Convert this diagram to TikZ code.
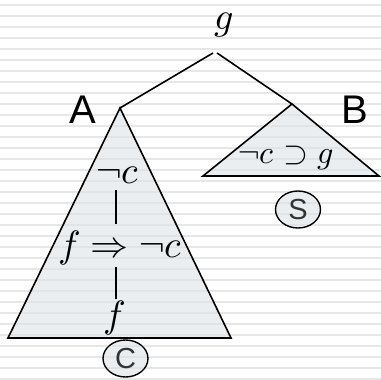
\documentclass[tikz,border=0pt]{standalone}
\usepackage{fontspec}
\usepackage{unicode-math}
\setmathfont{Latin Modern Math}
\newfontfamily\labelfont{Liberation Sans}
\usetikzlibrary{shapes.geometric}
\definecolor{paneFill}{RGB}{220,227,232}
\definecolor{markGray}{RGB}{51,51,51}
\begin{document}
\begin{tikzpicture}[x=1pt,y=-1pt,line width=1.6pt,
  stripe/.style={draw=gray!19,line width=2pt},
  pane/.style={draw,line join=miter,fill=paneFill,fill opacity=0.6},
  bigmath/.style={inner sep=0pt,anchor=base,font=\fontsize{38}{44}\selectfont},
  sidelbl/.style={inner sep=0pt,anchor=base,font=\labelfont\fontsize{40}{46}\selectfont},
  tagmark/.style={draw,ellipse,line width=1.4pt,minimum width=45pt,minimum height=37pt,inner sep=0pt,
    fill=paneFill,fill opacity=0.6,text opacity=1,text=markGray,
    font=\labelfont\fontsize{29}{33}\selectfont}]
\useasboundingbox (0,0) rectangle (381,380);
\fill[white] (0,0) rectangle (381,380);
\foreach \k in {0,...,34} \draw[stripe] (0,{5+11*\k}) -- (381,{5+11*\k});
\coordinate (root) at (215,53);
\coordinate (topA) at (120,108);
\coordinate (topB) at (292,104);
\coordinate (stem) at (116,0);
\draw[pane] (topA) -- (8,338) -- (231,338) -- cycle;
\draw[pane] (topB) -- (203,176) -- (379,176) -- cycle;
\node[bigmath] (goal) at (224,30) {$g$};
\draw ([xshift=-2pt]root) -- (topA);
\draw ([xshift=2pt]root) -- (topB);
\node[sidelbl] (nameA) at (83,123) {A};
\node[sidelbl] (nameB) at (354.5,123) {B};
\node[bigmath] (negc) at (117.5,183) {$\neg c$};
\node[bigmath] (impl) at (120,257) {$f\Rightarrow\neg c$};
\node[bigmath] (fact) at (115,327) {$f$};
\node[bigmath,font=\fontsize{32}{38}\selectfont] (ruleB) at (286,163) {$\neg c\supset g$};
\draw[line width=1.3pt,shorten <=6pt,shorten >=5pt] (negc.south -| stem) -- (impl.north -| stem);
\draw[line width=1.3pt,shorten <=1pt] (impl.south -| stem) -- (fact.north -| stem);
\node[tagmark] (markC) at (125.5,358.5) {C};
\node[tagmark] (markS) at (298,209.5) {S};
\end{tikzpicture}
\end{document}
